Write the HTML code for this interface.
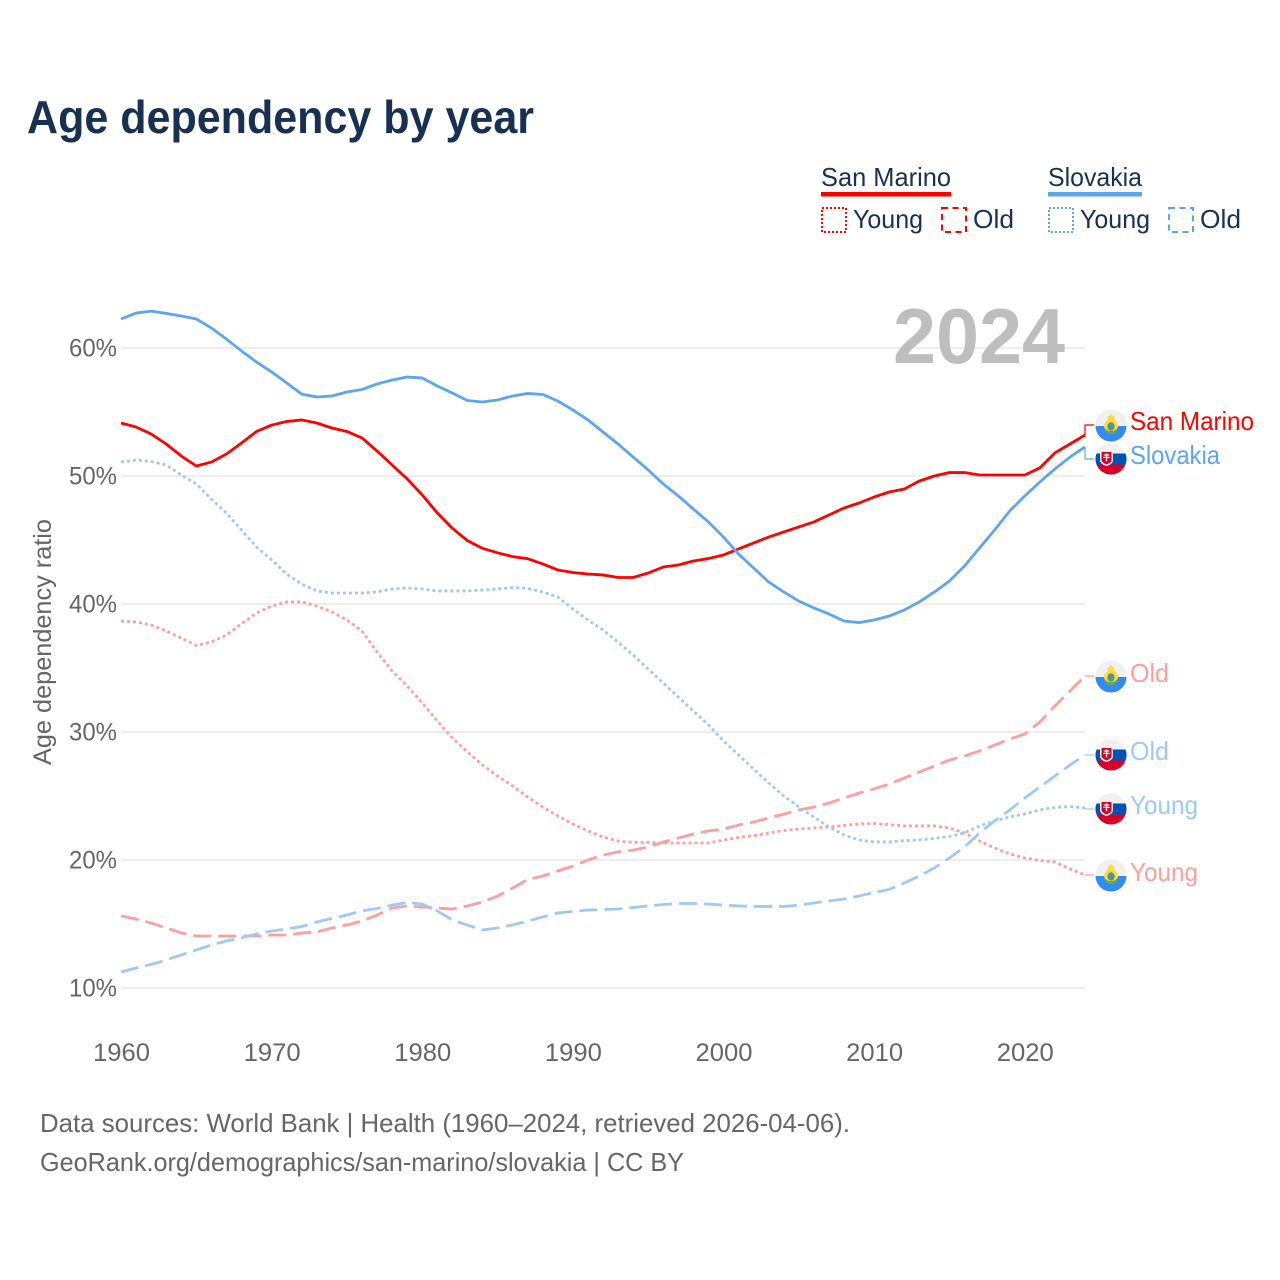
<!DOCTYPE html>
<html lang="en">
<head>
<meta charset="utf-8">
<title>Age dependency by year</title>
<style>
html,body{margin:0;padding:0;background:#fff;}
svg{display:block;}
text{font-family:"Liberation Sans",sans-serif;}
</style>
</head>
<body>
<svg id="chart" xmlns="http://www.w3.org/2000/svg" width="1280" height="1280" viewBox="0 0 1280 1280">
<defs>
<g id="flag-sm">
<circle r="15.5" fill="#f0f0f0"/>
<path d="M-15.5 1A15.5 15.5 0 0 0 15.5 1Z" fill="#338af3"/>
<ellipse cx="0" cy="1.5" rx="7" ry="7.5" fill="#ffda44"/>
<path d="M-7 1.5A7 7.5 0 0 0 7 1.5C5.5 5 3 6 0 6C-3 6 -5.5 5 -7 1.5Z" fill="#6da544"/>
<ellipse cx="0" cy="1.5" rx="3.6" ry="4.2" fill="#4c9a8a"/>
<path d="M-3.5 -5.5L-3 -9L-1 -9.5L0 -11.5L1 -9.5L3 -9L3.5 -5.5Z" fill="#ffda44"/>
</g>
<g id="flag-sk">
<circle r="15.5" fill="#f0f0f0"/>
<path d="M-14.5 -5.5H14.5A15.5 15.5 0 0 1 14.5 5.5H-14.5A15.5 15.5 0 0 1 -14.5 -5.5Z" fill="#0052b4"/>
<path d="M-14.5 5.5H14.5A15.5 15.5 0 0 1 -14.5 5.5Z" fill="#d80027"/>
<path d="M-11 -8.5H2V1C2 4 -1 6 -4.5 7C-8 6 -11 4 -11 1Z" fill="#f0f0f0"/>
<path d="M-9.5 -7H0.5V1C0.5 3 -2 4.5 -4.5 5.5C-7 4.5 -9.5 3 -9.5 1Z" fill="#d80027"/>
<path d="M-5.2 -6H-3.8V-4.6H-1.8V-3.4H-3.8V-2.2H-1.3V-1H-3.8V2.2H-5.2V-1H-7.7V-2.2H-5.2V-3.4H-7.2V-4.6H-5.2Z" fill="#f0f0f0"/>
</g>
</defs>

<text x="27" y="133" font-size="46" font-weight="700" fill="#183153" textLength="507" lengthAdjust="spacingAndGlyphs">Age dependency by year</text>

<g font-size="26" fill="#183153">
<text x="821" y="186" textLength="130" lengthAdjust="spacingAndGlyphs">San Marino</text>
<rect x="821" y="192" width="130" height="4.5" fill="#ff0000"/>
<rect x="822" y="208" width="24" height="24" fill="none" stroke="#ff0000" stroke-width="2" stroke-dasharray="2 2"/>
<text x="853" y="228" textLength="70" lengthAdjust="spacingAndGlyphs">Young</text>
<rect x="942" y="208" width="24" height="24" fill="none" stroke="#ff0000" stroke-width="2" stroke-dasharray="6 4.5"/>
<text x="973" y="228" textLength="41" lengthAdjust="spacingAndGlyphs">Old</text>
<text x="1048" y="186" textLength="94" lengthAdjust="spacingAndGlyphs">Slovakia</text>
<rect x="1048" y="192" width="94" height="4.5" fill="#5ea5ee"/>
<rect x="1049" y="208" width="24" height="24" fill="none" stroke="#5ea5ee" stroke-width="2" stroke-dasharray="2 2"/>
<text x="1080" y="228" textLength="70" lengthAdjust="spacingAndGlyphs">Young</text>
<rect x="1169" y="208" width="24" height="24" fill="none" stroke="#5ea5ee" stroke-width="2" stroke-dasharray="6 4.5"/>
<text x="1200" y="228" textLength="41" lengthAdjust="spacingAndGlyphs">Old</text>
</g>

<g id="grid"></g>

<text x="893" y="363" font-size="78" font-weight="700" fill="#bebebe" textLength="172" lengthAdjust="spacingAndGlyphs">2024</text>

<g id="series"></g>
<g id="connectors"></g>

<text transform="translate(51,765) rotate(-90)" font-size="25" fill="#666666" textLength="246" lengthAdjust="spacingAndGlyphs">Age dependency ratio</text>
<g id="yticks"></g>
<g id="xticks"></g>

<use href="#flag-sk" x="1111" y="459"/>
<use href="#flag-sm" x="1111" y="425"/>
<use href="#flag-sm" x="1111" y="676"/>
<use href="#flag-sk" x="1111" y="755"/>
<use href="#flag-sk" x="1111" y="809"/>
<use href="#flag-sm" x="1111" y="875"/>

<g font-size="26">
<text x="1130" y="430" fill="#ff0000" textLength="124" lengthAdjust="spacingAndGlyphs">San Marino</text>
<text x="1130" y="464" fill="#5ea5ee" textLength="90" lengthAdjust="spacingAndGlyphs">Slovakia</text>
<text x="1130" y="682" fill="#ff9e9e" textLength="39" lengthAdjust="spacingAndGlyphs">Old</text>
<text x="1130" y="760" fill="#9ec9f5" textLength="39" lengthAdjust="spacingAndGlyphs">Old</text>
<text x="1130" y="814" fill="#9ec9f5" textLength="68" lengthAdjust="spacingAndGlyphs">Young</text>
<text x="1130" y="881" fill="#ff9e9e" textLength="68" lengthAdjust="spacingAndGlyphs">Young</text>
</g>

<g font-size="26" fill="#666666">
<text x="40" y="1132" textLength="810" lengthAdjust="spacingAndGlyphs">Data sources: World Bank | Health (1960–2024, retrieved 2026-04-06).</text>
<text x="40" y="1171" textLength="644" lengthAdjust="spacingAndGlyphs">GeoRank.org/demographics/san-marino/slovakia | CC BY</text>
</g>
</svg>

<script>
const startYear = 1960;
const yTickValues = [10, 20, 30, 40, 50, 60];
const xTickYears = [1960, 1970, 1980, 1990, 2000, 2010, 2020];

const slovakiaTotal = [
62.27,62.73,62.88,62.70,62.50,62.27,61.56,60.70,59.77,58.90,
58.13,57.27,56.40,56.17,56.25,56.56,56.76,57.19,57.50,57.73,
57.66,57.03,56.48,55.90,55.78,55.94,56.25,56.45,56.37,55.86,
55.16,54.38,53.44,52.50,51.48,50.47,49.38,48.44,47.42,46.41,
45.23,43.90,42.81,41.72,40.94,40.23,39.69,39.22,38.67,38.55,
38.75,39.06,39.53,40.16,40.94,41.80,42.97,44.38,45.78,47.27,
48.44,49.53,50.55,51.48,52.27];

const sanMarinoTotal = [
54.14,53.83,53.28,52.50,51.56,50.78,51.09,51.72,52.58,53.48,
53.98,54.26,54.38,54.14,53.75,53.48,52.97,51.95,50.86,49.77,
48.52,47.11,45.91,44.95,44.35,44.00,43.70,43.54,43.13,42.66,
42.46,42.34,42.27,42.07,42.07,42.42,42.89,43.05,43.36,43.55,
43.83,44.30,44.77,45.23,45.63,46.02,46.41,46.95,47.50,47.89,
48.36,48.75,48.98,49.61,50.00,50.27,50.27,50.08,50.08,50.08,
50.08,50.63,51.80,52.50,53.20];

const slovakiaYoung = [
51.09,51.25,51.13,50.86,50.08,49.38,48.20,47.11,45.78,44.45,
43.44,42.34,41.56,41.02,40.86,40.86,40.86,40.94,41.17,41.25,
41.17,41.02,41.02,41.02,41.09,41.17,41.29,41.21,40.94,40.55,
39.61,38.75,37.97,37.03,36.02,34.92,33.83,32.73,31.64,30.55,
29.30,28.20,27.11,26.02,25.00,24.14,23.36,22.58,21.95,21.56,
21.41,21.41,21.52,21.56,21.68,21.84,22.11,22.66,23.05,23.36,
23.59,23.91,24.10,24.18,24.06];

const sanMarinoYoung = [
38.67,38.59,38.36,37.89,37.34,36.76,37.03,37.58,38.44,39.30,
39.84,40.16,40.16,39.84,39.38,38.75,37.89,36.25,34.77,33.59,
32.27,30.86,29.53,28.44,27.42,26.56,25.78,24.92,24.14,23.44,
22.81,22.27,21.80,21.48,21.37,21.37,21.33,21.33,21.33,21.33,
21.56,21.76,21.91,22.11,22.30,22.42,22.50,22.58,22.70,22.81,
22.85,22.77,22.66,22.66,22.66,22.50,22.11,21.48,20.94,20.47,
20.16,19.96,19.84,19.30,18.83];

const sanMarinoOld = [
15.63,15.39,15.08,14.69,14.30,14.06,14.06,14.06,14.06,14.06,
14.14,14.14,14.30,14.38,14.69,14.92,15.23,15.70,16.25,16.41,
16.33,16.25,16.17,16.41,16.72,17.19,17.81,18.48,18.75,19.14,
19.53,20.00,20.39,20.63,20.78,21.02,21.41,21.72,22.03,22.27,
22.42,22.73,22.97,23.28,23.59,23.91,24.14,24.45,24.84,25.23,
25.55,25.94,26.41,26.88,27.34,27.81,28.13,28.52,28.98,29.45,
29.84,30.78,32.03,33.20,34.38];

const slovakiaOld = [
11.25,11.56,11.84,12.19,12.58,12.97,13.36,13.67,13.91,14.22,
14.45,14.61,14.80,15.16,15.43,15.70,16.02,16.21,16.48,16.68,
16.56,16.02,15.31,14.92,14.53,14.69,14.92,15.23,15.55,15.86,
15.98,16.09,16.13,16.17,16.29,16.41,16.52,16.60,16.60,16.56,
16.48,16.41,16.37,16.37,16.37,16.48,16.64,16.80,16.95,17.19,
17.46,17.70,18.20,18.75,19.38,20.16,21.02,22.11,23.05,23.91,
24.84,25.70,26.56,27.42,28.20];

const NS = 'http://www.w3.org/2000/svg';
function xScale(year){ return 121 + (year - startYear) * 15.0625; }
function yScale(value){ return 988 - (value - 10) * 12.8; }

const gridGroup = document.getElementById('grid');
const yTickGroup = document.getElementById('yticks');
const xTickGroup = document.getElementById('xticks');
const seriesGroup = document.getElementById('series');
const connectorGroup = document.getElementById('connectors');

yTickValues.forEach(function(v){
  const line = document.createElementNS(NS, 'line');
  
  
  line.setAttribute('x1', 121);
  line.setAttribute('x2', xScale(2024));
  line.setAttribute('y1', yScale(v));
  line.setAttribute('y2', yScale(v));
  line.setAttribute('stroke', '#e8e8e8');
  line.setAttribute('stroke-width', '1.5');
  gridGroup.appendChild(line);

  const label = document.createElementNS(NS, 'text');
  
  
  label.setAttribute('x', 117);
  label.setAttribute('y', yScale(v) + 8.5);
  label.setAttribute('text-anchor', 'end');
  label.setAttribute('font-size', '25');
  label.setAttribute('fill', '#666666');
  label.setAttribute('textLength', '48');
  label.setAttribute('lengthAdjust', 'spacingAndGlyphs');
  label.textContent = v + '%';
  yTickGroup.appendChild(label);
});

xTickYears.forEach(function(year){
  const label = document.createElementNS(NS, 'text');
  
  
  label.setAttribute('x', xScale(year) + 0.5);
  label.setAttribute('y', 1061);
  label.setAttribute('text-anchor', 'middle');
  label.setAttribute('font-size', '25');
  label.setAttribute('fill', '#666666');
  label.setAttribute('textLength', '57');
  label.setAttribute('lengthAdjust', 'spacingAndGlyphs');
  label.textContent = year;
  xTickGroup.appendChild(label);
});

function pointsFor(values){
  return values.map(function(v, i){
    return xScale(startYear + i).toFixed(2) + ',' + yScale(v).toFixed(2);
  }).join(' ');
}

function styleLine(el, color, dash, width){
  el.setAttribute('fill', 'none');
  el.setAttribute('stroke', color);
  el.setAttribute('stroke-width', width);
  el.setAttribute('stroke-linejoin', 'round');
  if (dash) el.setAttribute('stroke-dasharray', dash);
}

function addConnector(values, labelY, color, dash){
  const c = document.createElementNS(NS, 'polyline');
  
  
  const endX = xScale(2024);
  const endY = yScale(values[values.length - 1]);
  c.setAttribute('points', endX + ',' + endY + ' ' + endX + ',' + labelY + ' 1094,' + labelY);
  styleLine(c, color, dash, 1.2);
  connectorGroup.appendChild(c);
}

const DOT = '3 3';
const DASH = '18 7';
const LIGHT_RED = '#ff9e9e';
const LIGHT_BLUE = '#9ec9f5';

const sanMarinoYoungLine = document.createElementNS(NS, 'polyline');


sanMarinoYoungLine.setAttribute('points', pointsFor(sanMarinoYoung));
styleLine(sanMarinoYoungLine, LIGHT_RED, DOT, 2.8);
seriesGroup.appendChild(sanMarinoYoungLine);

const sanMarinoOldLine = document.createElementNS(NS, 'polyline');


sanMarinoOldLine.setAttribute('points', pointsFor(sanMarinoOld));
styleLine(sanMarinoOldLine, LIGHT_RED, DASH, 2.8);
seriesGroup.appendChild(sanMarinoOldLine);

const slovakiaYoungLine = document.createElementNS(NS, 'polyline');


slovakiaYoungLine.setAttribute('points', pointsFor(slovakiaYoung));
styleLine(slovakiaYoungLine, LIGHT_BLUE, DOT, 2.8);
seriesGroup.appendChild(slovakiaYoungLine);

const slovakiaOldLine = document.createElementNS(NS, 'polyline');


slovakiaOldLine.setAttribute('points', pointsFor(slovakiaOld));
styleLine(slovakiaOldLine, LIGHT_BLUE, DASH, 2.8);
seriesGroup.appendChild(slovakiaOldLine);

const sanMarinoTotalLine = document.createElementNS(NS, 'polyline');


sanMarinoTotalLine.setAttribute('points', pointsFor(sanMarinoTotal));
styleLine(sanMarinoTotalLine, '#ff0000', null, 2.8);
seriesGroup.appendChild(sanMarinoTotalLine);

const slovakiaTotalLine = document.createElementNS(NS, 'polyline');


slovakiaTotalLine.setAttribute('points', pointsFor(slovakiaTotal));
styleLine(slovakiaTotalLine, '#5ea5ee', null, 2.8);
seriesGroup.appendChild(slovakiaTotalLine);

addConnector(sanMarinoTotal, 425, '#ff0000', null);
addConnector(slovakiaTotal, 459, '#5ea5ee', null);
addConnector(sanMarinoOld, 676, LIGHT_RED, null);
addConnector(slovakiaOld, 755, LIGHT_BLUE, null);
addConnector(slovakiaYoung, 809, LIGHT_BLUE, null);
addConnector(sanMarinoYoung, 875, LIGHT_RED, null);
</script>
</body>
</html>
